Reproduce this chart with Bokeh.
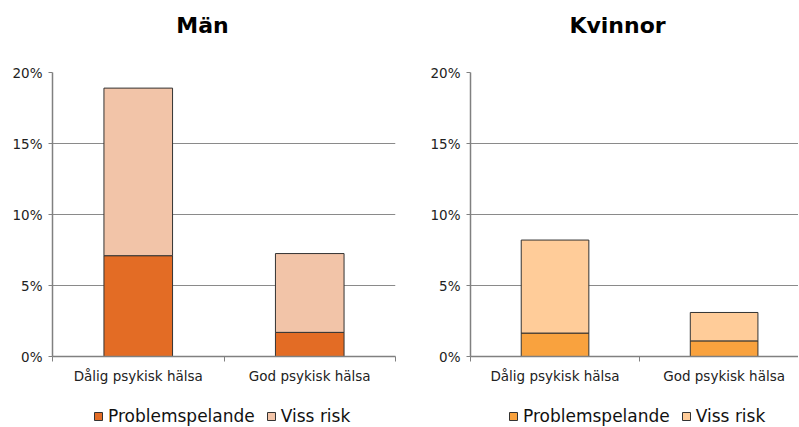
from bokeh.plotting import figure
from bokeh.layouts import row, column
from bokeh.models import (ColumnDataSource, FixedTicker, Legend, LegendItem,
                          Range1d, PrintfTickFormatter)
from bokeh.core.properties import value
from bokeh.embed import file_html
from bokeh.resources import INLINE

categories = ["Dålig psykisk hälsa", "God psykisk hälsa"]
series = ["Problemspelande", "Viss risk"]
man_problem = [7.1, 1.7]
man_risk = [11.8, 5.55]
kvinnor_problem = [1.65, 1.1]
kvinnor_risk = [6.55, 2.0]
y_ticks = [0, 5, 10, 15, 20]
man_colors = ["#E36C25", "#F2C4A8"]
kvinnor_colors = ["#F9A23E", "#FFCC99"]
titles = ["Män", "Kvinnor"]

FONT = "DejaVu Sans"
TITLE_H = 48
MAIN_H = 347
LEG_H = 32


def blank(width, x0):
    f = figure(width=width, height=TITLE_H, output_backend="svg",
               toolbar_location=None, x_axis_type=None, y_axis_type=None,
               x_range=Range1d(x0, x0 + width), y_range=Range1d(TITLE_H, 0),
               min_border=0)
    f.outline_line_color = None
    f.grid.visible = False
    return f


def title_fig(text, width, x0, cx):
    f = blank(width, x0)
    f.text(x=[cx], y=[25], text=[text], text_font=value(FONT),
           text_font_size="22px", text_font_style="bold",
           text_align="center", text_baseline="middle", text_color="#000000")
    return f


def make_source(problem, risk):
    xs = [i + 0.5 for i in range(len(categories))]
    return xs, ColumnDataSource(dict(x=xs, cat=categories,
                                     **{series[0]: problem, series[1]: risk}))


def main_fig(problem, risk, colors, width, border_left, border_right,
             border_top, x_end):
    xs, src = make_source(problem, risk)
    p = figure(width=width, height=MAIN_H, output_backend="svg",
               toolbar_location=None, x_range=Range1d(0, x_end),
               y_range=Range1d(0, 20), min_border_left=border_left,
               min_border_right=border_right, min_border_top=border_top,
               min_border_bottom=39)
    p.vbar_stack(series, x="x", width=0.4, source=src, color=colors,
                 line_color="#333333", line_width=1)
    p.outline_line_color = None
    p.background_fill_color = "white"
    p.border_fill_color = "white"

    p.xgrid.visible = False
    p.ygrid.ticker = FixedTicker(ticks=y_ticks)
    p.ygrid.grid_line_color = "#8a8a8a"
    p.ygrid.grid_line_width = 1

    xa = p.xaxis[0]
    xa.ticker = FixedTicker(ticks=xs, minor_ticks=[0, 1, 2])
    xa.major_label_overrides = {x: c for x, c in zip(xs, categories)}
    xa.major_tick_out = 0
    xa.major_tick_in = 0
    xa.minor_tick_out = 5
    xa.minor_tick_in = 0
    xa.minor_tick_line_color = "#808080"
    xa.axis_line_color = "#808080"
    xa.axis_line_width = 1.5
    xa.major_label_text_font = FONT
    xa.major_label_text_font_size = "13.5px"
    xa.major_label_text_color = "#222222"
    xa.major_label_standoff = 6

    ya = p.yaxis[0]
    ya.ticker = FixedTicker(ticks=y_ticks)
    ya.formatter = PrintfTickFormatter(format="%d%%")
    ya.major_tick_out = 4
    ya.major_tick_in = 0
    ya.minor_tick_out = 0
    ya.minor_tick_in = 0
    ya.major_tick_line_color = "#808080"
    ya.axis_line_color = "#808080"
    ya.axis_line_width = 1.5
    ya.major_label_text_font = FONT
    ya.major_label_text_font_size = "13.5px"
    ya.major_label_text_color = "#222222"
    ya.major_label_standoff = 6
    return p


def legend_fig(problem, risk, colors, width, legend_x):
    xs, src = make_source(problem, risk)
    f = figure(width=width, height=LEG_H, output_backend="svg",
               toolbar_location=None, x_axis_type=None, y_axis_type=None,
               x_range=Range1d(0, 2), y_range=Range1d(0, 20),
               min_border=0)
    f.outline_line_color = None
    f.grid.visible = False
    rs = f.vbar_stack(series, x="x", width=0.4, source=src, color=colors,
                      line_color="#333333", line_width=1)
    for r in rs:
        r.visible = False
    legend = Legend(items=[LegendItem(label=s, renderers=[r])
                           for s, r in zip(series, rs)],
                    orientation="horizontal", location=(legend_x, 1),
                    glyph_width=10, glyph_height=10, label_text_font=FONT,
                    label_text_font_size="17px", label_height=17,
                    label_text_color="#111111", spacing=11,
                    label_standoff=5, padding=0, margin=0,
                    border_line_alpha=0, background_fill_alpha=0)
    f.add_layout(legend, "center")
    return f


t1 = title_fig(titles[0], 400, 0, 202)
t2 = title_fig(titles[1], 398, 400, 617)
p1 = main_fig(man_problem, man_risk, man_colors, 400, 52, 5, 24, 2.0)
p2 = main_fig(kvinnor_problem, kvinnor_risk, kvinnor_colors, 398, 70, 0, 20,
              1.94)
l1 = legend_fig(man_problem, man_risk, man_colors, 400, 93)
l2 = legend_fig(kvinnor_problem, kvinnor_risk, kvinnor_colors, 398, 108)

layout = column(row(t1, t2, spacing=0), row(p1, p2, spacing=0),
                row(l1, l2, spacing=0), spacing=0)
open("out.html", "w").write(file_html(layout, INLINE))
